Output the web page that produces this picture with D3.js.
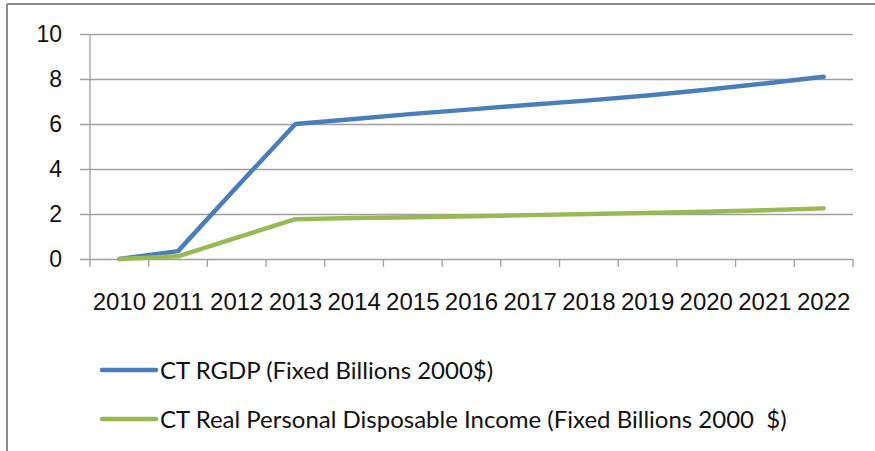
<!DOCTYPE html>
<html>
<head>
<meta charset="utf-8">
<script src="https://cdn.jsdelivr.net/npm/d3@7"></script>
<style>
  html, body { margin: 0; padding: 0; background: #ffffff; }
  svg { display: block; font-family: Lato, "Open Sans", sans-serif; }
  .legend text { white-space: pre; }
</style>
</head>
<body>
<svg id="chart" width="875" height="451"></svg>
<script>
// Years on the category axis
const years = ["2010", "2011", "2012", "2013", "2014", "2015", "2016",
               "2017", "2018", "2019", "2020", "2021", "2022"];

// CT RGDP (Fixed Billions 2000$)
const rgdp = [0, 0.35, 3.2, 6.0, 6.22, 6.45, 6.65, 6.86, 7.05, 7.27, 7.52, 7.8, 8.1];

// CT Real Personal Disposable Income (Fixed Billions 2000 $)
const income = [0, 0.12, 0.95, 1.77, 1.82, 1.86, 1.9, 1.95, 2.0, 2.05, 2.1, 2.17, 2.25];

// Value-axis ticks
const yTicks = [0, 2, 4, 6, 8, 10];

const seriesNames = [
  "CT RGDP (Fixed Billions 2000$)",
  "CT Real Personal Disposable Income (Fixed Billions 2000  $)"
];
const seriesColors = ["#4a7ebb", "#98b954"];

const svg = d3.select("#chart");

const plot = { left: 90, right: 853, top: 34, bottom: 259 };
const gridColor = "#a0a0a0";

// Outer chart frame (top and left edges)
svg.append("line")
  .attr("x1", 7).attr("x2", 875).attr("y1", 4).attr("y2", 4)
  .attr("stroke", "#8c8c8c").attr("stroke-width", 2);
svg.append("line")
  .attr("x1", 7).attr("x2", 7).attr("y1", 4).attr("y2", 451)
  .attr("stroke", "#8c8c8c").attr("stroke-width", 2);

const x = d3.scaleBand().domain(years).range([plot.left, plot.right]).padding(0);
const y = d3.scaleLinear().domain([0, 10]).range([plot.bottom, plot.top]);

// Horizontal gridlines with outside tick marks and labels
const yAxis = svg.append("g")
  .attr("transform", `translate(${plot.left},0)`)
  .call(d3.axisLeft(y).tickValues(yTicks).tickFormat(d3.format("d"))
    .tickSize(10).tickPadding(18));
yAxis.select(".domain").remove();
yAxis.selectAll(".tick line")
  .attr("x1", plot.right - plot.left)
  .attr("x2", -10)
  .attr("stroke", gridColor).attr("stroke-width", 1.3);
yAxis.selectAll(".tick text")
  .attr("fill", "#111").style("font-size", "23px");

// Vertical value-axis line
svg.append("line")
  .attr("x1", plot.left).attr("x2", plot.left)
  .attr("y1", plot.top).attr("y2", plot.bottom)
  .attr("stroke", gridColor).attr("stroke-width", 1.3);

// Category axis: labels centred in each band
const xAxis = svg.append("g")
  .attr("transform", `translate(0,${plot.bottom})`)
  .call(d3.axisBottom(x).tickSize(0).tickPadding(34));
xAxis.select(".domain").remove();
xAxis.selectAll(".tick text")
  .attr("fill", "#111").style("font-size", "24px");

// Tick marks between categories
const boundaries = years.map(d => x(d)).concat([x.range()[1]]);
svg.append("g").selectAll("line")
  .data(boundaries)
  .join("line")
  .attr("x1", d => d).attr("x2", d => d)
  .attr("y1", plot.bottom).attr("y2", plot.bottom + 8)
  .attr("stroke", gridColor).attr("stroke-width", 1.3);

// Series lines
const line = d3.line()
  .x((d, i) => x(years[i]) + x.bandwidth() / 2)
  .y(d => y(d));

[rgdp, income].forEach((vals, k) => {
  svg.append("path")
    .datum(vals)
    .attr("d", line)
    .attr("fill", "none")
    .attr("stroke", seriesColors[k])
    .attr("stroke-width", 4.5)
    .attr("stroke-linejoin", "round")
    .attr("stroke-linecap", "round");
});

// Legend
const legend = svg.append("g").attr("class", "legend");
const legendRows = [370, 419];
seriesNames.forEach((name, k) => {
  legend.append("line")
    .attr("x1", 102).attr("x2", 156)
    .attr("y1", legendRows[k]).attr("y2", legendRows[k])
    .attr("stroke", seriesColors[k])
    .attr("stroke-width", 4.5)
    .attr("stroke-linecap", "round");
  legend.append("text")
    .attr("x", 160).attr("y", legendRows[k])
    .attr("dy", "0.36em")
    .attr("fill", "#111")
    .style("font-size", "24px")
    .text(name);
});
</script>
</body>
</html>
